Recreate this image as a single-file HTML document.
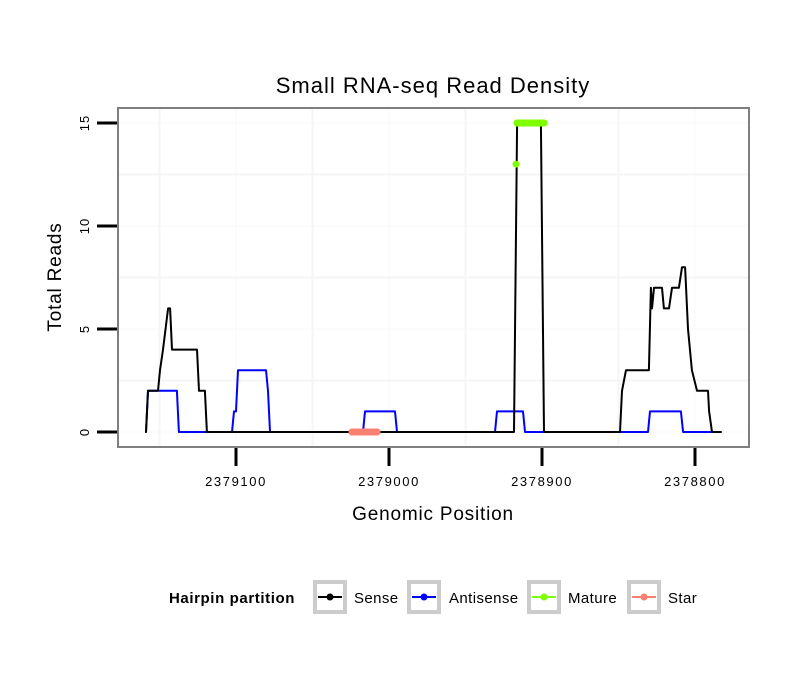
<!DOCTYPE html>
<html><head><meta charset="utf-8"><style>
body{margin:0;background:#fff;font-family:"Liberation Sans",sans-serif}
</style></head><body>
<svg id="chart" width="810" height="690" xmlns="http://www.w3.org/2000/svg" font-family="Liberation Sans, sans-serif">
<rect width="810" height="690" fill="#fff"/>
<text x="433" y="93" font-size="22" letter-spacing="1" text-anchor="middle">Small RNA-seq Read Density</text>
<g id="grid"></g>
<g id="series"></g>
<rect x="118" y="108" width="631" height="339" fill="none" stroke="#7f7f7f" stroke-width="2"/>
<g id="axes"></g>
<text x="433" y="520" font-size="19" letter-spacing="0.8" text-anchor="middle">Genomic Position</text>
<text transform="translate(61,277) rotate(-90)" font-size="19" letter-spacing="0.8" text-anchor="middle">Total Reads</text>
<g>
<text x="232" y="603" font-size="15" font-weight="bold" letter-spacing="0.6" text-anchor="middle">Hairpin partition</text>
<g><rect x="315" y="582" width="30" height="30" fill="#fff" stroke="#ccc" stroke-width="4"/><line x1="318" y1="597" x2="342" y2="597" stroke="#000" stroke-width="2"/><circle cx="330" cy="597" r="3.5" fill="#000"/><text x="354" y="603" font-size="15" letter-spacing="0.4">Sense</text></g>
<g><rect x="409" y="582" width="30" height="30" fill="#fff" stroke="#ccc" stroke-width="4"/><line x1="412" y1="597" x2="436" y2="597" stroke="#00f" stroke-width="2"/><circle cx="424" cy="597" r="3.5" fill="#00f"/><text x="449" y="603" font-size="15" letter-spacing="0.4">Antisense</text></g>
<g><rect x="529" y="582" width="30" height="30" fill="#fff" stroke="#ccc" stroke-width="4"/><line x1="532" y1="597" x2="556" y2="597" stroke="#7fff00" stroke-width="2"/><circle cx="544" cy="597" r="3.5" fill="#7fff00"/><text x="568" y="603" font-size="15" letter-spacing="0.4">Mature</text></g>
<g><rect x="629" y="582" width="30" height="30" fill="#fff" stroke="#ccc" stroke-width="4"/><line x1="632" y1="597" x2="656" y2="597" stroke="#fa8072" stroke-width="2"/><circle cx="644" cy="597" r="3.5" fill="#fa8072"/><text x="668" y="603" font-size="15" letter-spacing="0.4">Star</text></g>
</g>
</svg>
<script>
const xTicks=[2379100,2379000,2378900,2378800];
const xMinor=[2379150,2379050,2378950,2378850];
const yTicks=[0,5,10,15];
const yMinor=[2.5,7.5,12.5];
const sensePos=[2379158.8,2379157.5,2379151,2379149.7,2379147.7,2379144.4,2379143.1,2379141.8,2379125.5,2379124.2,2379120.3,2379119,2378918.3,2378916.3,2378900.7,2378898.7,2378849,2378847.7,2378845.1,2378830.1,2378828.8,2378828.1,2378826.8,2378821.6,2378820.3,2378817,2378815,2378810.5,2378808.5,2378806.5,2378804.6,2378802,2378798.7,2378791.5,2378790.8,2378788.9,2378783];
const senseVal=[0,2,2,3,4,6,6,4,4,2,2,0,0,15,15,0,0,2,3,3,7,6,7,7,6,6,7,7,8,8,5,3,2,2,1,0,0];
const antiPos=[2379158.8,2379157.5,2379138.6,2379137.3,2379102.6,2379101.3,2379100,2379098.7,2379080.4,2379079.1,2379077.8,2379017,2379015.7,2378996.1,2378994.8,2378930.7,2378929.4,2378912.4,2378911.1,2378830.7,2378829.4,2378809.2,2378807.8,2378789.5];
const antiVal=[0,2,2,0,0,1,1,3,3,2,0,0,1,1,0,0,1,1,0,0,1,1,0,0];
const maturePos=[2378917,2378916.3,2378914,2378911,2378908,2378905,2378902,2378898.7];
const matureVal=[13,15,15,15,15,15,15,15];
const starPos=[2379024.2,2379021,2379018,2379015,2379012,2379009,2379007.8];
const starVal=[0,0,0,0,0,0,0];
const NS="http://www.w3.org/2000/svg";
const X=p=>236+(2379100-p)*1.53;
const Y=v=>432-v*20.6;
function mk(tag,attrs,parent){const e=document.createElementNS(NS,tag);for(const k in attrs)e.setAttribute(k,attrs[k]);parent.appendChild(e);return e;}
const grid=document.getElementById('grid'),series=document.getElementById('series'),axes=document.getElementById('axes');
xMinor.forEach(p=>{const l=mk('line',{x1:X(p),x2:X(p),y1:108,y2:447,stroke:'#f5f5f5','stroke-width':2},grid);

});
xTicks.forEach(p=>{const l=mk('line',{x1:X(p),x2:X(p),y1:108,y2:447,stroke:'#f8f8f8','stroke-width':1},grid);

});
yMinor.forEach(v=>{const l=mk('line',{x1:118,x2:749,y1:Y(v),y2:Y(v),stroke:'#f5f5f5','stroke-width':2},grid);

});
yTicks.forEach(v=>{const l=mk('line',{x1:118,x2:749,y1:Y(v),y2:Y(v),stroke:'#f8f8f8','stroke-width':1},grid);

});
function path(ps,vs,color,w,name){const d=ps.map((p,i)=>(i?'L':'M')+X(p).toFixed(1)+','+Y(vs[i]).toFixed(1)).join('');
const e=mk('path',{d:d,fill:'none',stroke:color,'stroke-width':w,'stroke-linejoin':'round','stroke-linecap':'round'},series);

}
function pts(ps,vs,color,r,name){ps.forEach((p,i)=>{const c=mk('circle',{cx:X(p),cy:Y(vs[i]),r:r,fill:color},series);

});}
path(antiPos,antiVal,'#0000ff',2,'antisense-line');
path(sensePos,senseVal,'#000',2,'sense-line');
path(starPos,starVal,'#fa8072',7,'star-line');
pts(starPos,starVal,'#fa8072',3.5,'star-point');
path(maturePos.slice(1),matureVal.slice(1),'#7fff00',7,'mature-line');
pts(maturePos,matureVal,'#7fff00',3.5,'mature-point');
yTicks.forEach(v=>{const l=mk('line',{x1:97,x2:117,y1:Y(v),y2:Y(v),stroke:'#000','stroke-width':3},axes);


const t=mk('text',{transform:`translate(89,${Y(v)}) rotate(-90)`,'font-size':13,'letter-spacing':1,'text-anchor':'middle'},axes);t.textContent=v;

});
xTicks.forEach(p=>{const l=mk('line',{x1:X(p),x2:X(p),y1:448,y2:466,stroke:'#000','stroke-width':3},axes);


const t=mk('text',{x:X(p),y:486,'font-size':13,'letter-spacing':1.6,'text-anchor':'middle'},axes);t.textContent=p;

});
</script>
</body></html>
